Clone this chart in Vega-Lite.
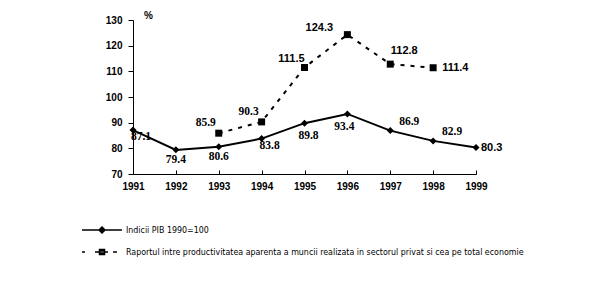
{
  "$schema": "https://vega.github.io/schema/vega-lite/v6.json",
  "width": 343,
  "height": 154,
  "autosize": "none",
  "padding": {"left": 133, "top": 20, "right": 140, "bottom": 117},
  "background": "white",
  "config": {
    "view": {"stroke": null},
    "axis": {"grid": false, "domainColor": "black", "tickColor": "black", "labelColor": "black", "labelFont": "Liberation Sans", "labelFontWeight": "bold", "labelFontSize": 10}
  },
  "data": {"values": [
    {"year": 1991, "series": "pib", "value": 87.1},
    {"year": 1992, "series": "pib", "value": 79.4},
    {"year": 1993, "series": "pib", "value": 80.6},
    {"year": 1994, "series": "pib", "value": 83.8},
    {"year": 1995, "series": "pib", "value": 89.8},
    {"year": 1996, "series": "pib", "value": 93.4},
    {"year": 1997, "series": "pib", "value": 86.9},
    {"year": 1998, "series": "pib", "value": 82.9},
    {"year": 1999, "series": "pib", "value": 80.3},
    {"year": 1993, "series": "rap", "value": 85.9},
    {"year": 1994, "series": "rap", "value": 90.3},
    {"year": 1995, "series": "rap", "value": 111.5},
    {"year": 1996, "series": "rap", "value": 124.3},
    {"year": 1997, "series": "rap", "value": 112.8},
    {"year": 1998, "series": "rap", "value": 111.4}
  ]},
  "encoding": {
    "x": {"field": "year", "type": "quantitative",
      "scale": {"domain": [1991, 1999], "nice": false, "zero": false},
      "axis": {"values": [1991, 1992, 1993, 1994, 1995, 1996, 1997, 1998, 1999], "format": "d", "title": null, "tickSize": -4, "labelPadding": 11, "labelFlush": false}},
    "y": {"field": "value", "type": "quantitative",
      "scale": {"domain": [70, 130], "nice": false, "zero": false},
      "axis": {"values": [70, 80, 90, 100, 110, 120, 130], "title": "%", "titleAngle": 0, "titleX": 15, "titleY": -5, "titleAlign": "center", "titleBaseline": "middle", "titleFont": "Liberation Sans", "titleFontSize": 10, "titleFontWeight": "bold", "tickSize": 5, "labelPadding": 6}}
  },
  "layer": [
    {"transform": [{"filter": "datum.series == 'pib'"}], "mark": {"type": "line", "color": "black", "strokeWidth": 2}},
    {"transform": [{"filter": "datum.series == 'rap'"}], "mark": {"type": "line", "color": "black", "strokeWidth": 2, "strokeDash": [4, 6]}},
    {"transform": [{"filter": "datum.series == 'pib'"}], "mark": {"type": "point", "shape": "diamond", "filled": true, "color": "black", "size": 49, "opacity": 1}},
    {"transform": [{"filter": "datum.series == 'rap'"}], "mark": {"type": "point", "shape": "square", "filled": true, "color": "black", "size": 49, "opacity": 1}},
    {"transform": [{"filter": "datum.year > 3000"}],
      "mark": {"type": "point", "filled": false, "color": "black", "strokeWidth": 1.5, "opacity": 1},
      "encoding": {"shape": {"field": "series", "type": "nominal",
        "scale": {"domain": ["pib", "rap"], "range": ["M-4,0H4M0,-0.6L0.6,0L0,0.6L-0.6,0ZM-0.3,-0.3V0.3M0.3,-0.3V0.3M0,-0.4V0.4", "M-4,0H-3.4M-1.4,0H-0.5M0.5,0H1.2M2.2,0H3.0M-0.5,-0.5H0.5V0.5H-0.5ZM-0.5,-0.2H0.5M-0.5,0.2H0.5"]},
        "legend": {"orient": "none", "legendX": -37, "legendY": 204, "direction": "vertical", "title": null, "symbolSize": 100, "symbolStrokeWidth": 1.5, "symbolStrokeColor": "black", "symbolFillColor": "black", "symbolOpacity": 1, "labelFont": "DejaVu Sans Condensed, Liberation Sans", "labelFontSize": 8.8, "labelColor": "black", "labelOffset": 18, "rowPadding": 10,
          "encode": {"symbols": {"stroke": {"value": "black"}, "strokeWidth": {"value": 1.5}, "fill": {"value": "black"}, "opacity": {"value": 1}}},
          "labelExpr": "datum.value == 'pib' ? 'Indicii PIB 1990=100' : 'Raportul intre productivitatea aparenta a muncii realizata in sectorul privat si cea pe total economie'", "labelLimit": 600}}}},
    {"transform": [{"filter": "datum.series == 'pib' && (datum.year == 1992 || datum.year == 1993)"}], "mark": {"type": "text", "font": "Liberation Serif", "fontWeight": "bold", "fontSize": 11.5, "color": "black", "dx": 0, "dy": 10}, "encoding": {"text": {"field": "value", "type": "quantitative", "format": ".1f"}}},
    {"transform": [{"filter": "datum.series == 'pib' && (datum.year == 1991 || datum.year == 1994)"}], "mark": {"type": "text", "font": "Liberation Serif", "fontWeight": "bold", "fontSize": 11.5, "color": "black", "dx": 8, "dy": 7}, "encoding": {"text": {"field": "value", "type": "quantitative", "format": ".1f"}}},
    {"transform": [{"filter": "datum.series == 'pib' && datum.year == 1995"}], "mark": {"type": "text", "font": "Liberation Serif", "fontWeight": "bold", "fontSize": 11.5, "color": "black", "dx": 4, "dy": 13}, "encoding": {"text": {"field": "value", "type": "quantitative", "format": ".1f"}}},
    {"transform": [{"filter": "datum.series == 'pib' && datum.year == 1996"}], "mark": {"type": "text", "font": "Liberation Serif", "fontWeight": "bold", "fontSize": 11.5, "color": "black", "dx": -3, "dy": 13}, "encoding": {"text": {"field": "value", "type": "quantitative", "format": ".1f"}}},
    {"transform": [{"filter": "datum.series == 'pib' && (datum.year == 1997 || datum.year == 1998)"}], "mark": {"type": "text", "font": "Liberation Serif", "fontWeight": "bold", "fontSize": 11.5, "color": "black", "dx": 19, "dy": -9}, "encoding": {"text": {"field": "value", "type": "quantitative", "format": ".1f"}}},
    {"transform": [{"filter": "datum.series == 'pib' && datum.year == 1999"}], "mark": {"type": "text", "font": "Liberation Sans", "fontWeight": "bold", "fontSize": 11, "color": "black", "align": "left", "dx": 5, "dy": 0}, "encoding": {"text": {"field": "value", "type": "quantitative", "format": ".1f"}}},
    {"transform": [{"filter": "datum.series == 'rap' && (datum.year == 1993 || datum.year == 1994)"}], "mark": {"type": "text", "font": "Liberation Serif", "fontWeight": "bold", "fontSize": 11.5, "color": "black", "dx": -13, "dy": -10}, "encoding": {"text": {"field": "value", "type": "quantitative", "format": ".1f"}}},
    {"transform": [{"filter": "datum.series == 'rap' && datum.year == 1995"}], "mark": {"type": "text", "font": "Liberation Sans", "fontWeight": "bold", "fontSize": 11, "color": "black", "dx": -13, "dy": -8}, "encoding": {"text": {"field": "value", "type": "quantitative", "format": ".1f"}}},
    {"transform": [{"filter": "datum.series == 'rap' && datum.year == 1996"}], "mark": {"type": "text", "font": "Liberation Sans", "fontWeight": "bold", "fontSize": 11, "color": "black", "dx": -28, "dy": -7}, "encoding": {"text": {"field": "value", "type": "quantitative", "format": ".1f"}}},
    {"transform": [{"filter": "datum.series == 'rap' && datum.year == 1997"}], "mark": {"type": "text", "font": "Liberation Sans", "fontWeight": "bold", "fontSize": 11, "color": "black", "dx": 14, "dy": -13}, "encoding": {"text": {"field": "value", "type": "quantitative", "format": ".1f"}}},
    {"transform": [{"filter": "datum.series == 'rap' && datum.year == 1998"}], "mark": {"type": "text", "font": "Liberation Sans", "fontWeight": "bold", "fontSize": 11, "color": "black", "align": "left", "dx": 9, "dy": 0}, "encoding": {"text": {"field": "value", "type": "quantitative", "format": ".1f"}}}
  ]
}
